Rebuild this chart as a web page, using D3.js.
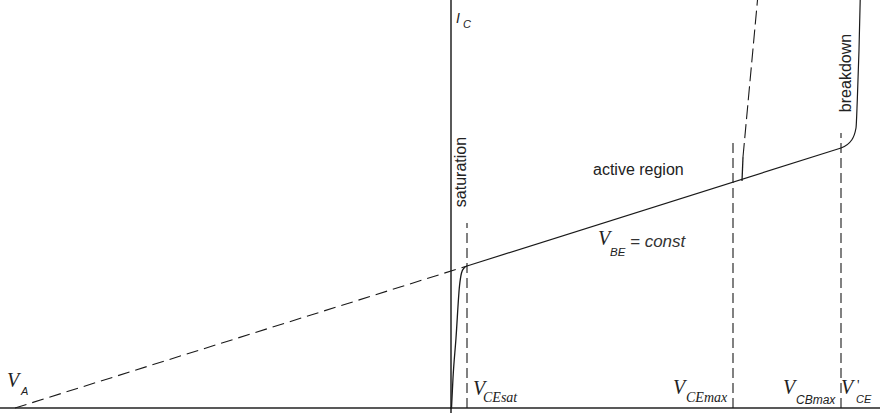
<!DOCTYPE html>
<html>
<head>
<meta charset="utf-8">
<script src="https://cdn.jsdelivr.net/npm/d3@7"></script>
<style>
  html, body { margin: 0; padding: 0; background: #fff; }
  svg { display: block; }
</style>
</head>
<body>
<div id="chart"></div>
<script>
// Bipolar transistor output characteristic: I_C versus V_CE at constant V_BE.

// Characteristic voltages (arbitrary units along V_CE)
const vA = -43.6;       // Early voltage intercept
const vCEsat = 1.6;
const vCEmax = 28.2;
const vCBmax = 39.0;

// Active-region line (solid) and its extrapolation back to V_A (dashed)
const earlyExtrapolation = [[-43.6, 0], [1.6, 14.2]];
const activeRegion = [[1.6, 14.2], [39.0, 26.0]];

// Saturation rise from the origin into the knee
const saturationCurve = [[0.05, 0.0], [0.2, 3.0], [0.5, 7.0], [0.85, 12.2], [1.05, 13.5], [1.3, 14.0], [1.6, 14.2]];

// Avalanche breakdown bend at V_CBmax
const breakdownCurve = [[39.0, 26.0], [40.07, 26.8], [40.5, 28.0], [40.63, 30.8], [40.8, 35.8], [40.92, 40.8]];

// Steep rise starting at V_CEmax: short solid part then dashed
const punchSolid = [[29.1, 22.7], [29.2, 25.1]];
const punchDashed = [[29.2, 25.1], [30.65, 40.8]];

// Dashed marker lines: [V_CE, top I_C]
const markerLines = [[vCEsat, 18.5], [vCEmax, 26.8], [vCBmax, 27.5]];

// Text
const axisLabelY = ["I", "C"];
const regionLabels = ["saturation", "active region", "breakdown"];
const vbeLabel = ["V", "BE", "= const"];
const voltageLabels = [
  { main: "V", prime: "", sub: "A" },
  { main: "V", prime: "", sub: "CEsat" },
  { main: "V", prime: "", sub: "CEmax" },
  { main: "V", prime: "", sub: "CBmax" },
  { main: "V", prime: "'", sub: "CE" }
];

const W = 880, H = 413;
const svg = d3.select("#chart").append("svg").attr("width", W).attr("height", H);

const x = d3.scaleLinear().domain([-45.1, 42.9]).range([0, 880]);
const y = d3.scaleLinear().domain([0, 40.8]).range([408, 0]);

const line = d3.line().x(d => x(d[0])).y(d => y(d[1]));
const smooth = d3.line().x(d => x(d[0])).y(d => y(d[1])).curve(d3.curveMonotoneX);

const ink = "#1a1a1a";

// Axes
svg.append("line")
  .attr("x1", x(-45.1)).attr("x2", x(42.9))
  .attr("y1", y(0)).attr("y2", y(0))
  .attr("stroke", "#222").attr("stroke-width", 1.3);
svg.append("line")
  .attr("x1", x(0)).attr("x2", x(0))
  .attr("y1", y(-0.5)).attr("y2", y(40.8))
  .attr("stroke", "#000").attr("stroke-width", 1.3);

// Dashed marker verticals
svg.selectAll("line.marker").data(markerLines).enter().append("line")
  .attr("class", "marker")
  .attr("x1", d => x(d[0])).attr("x2", d => x(d[0]))
  .attr("y1", y(0)).attr("y2", d => y(d[1]))
  .attr("stroke", ink).attr("stroke-width", 1.1)
  .attr("stroke-dasharray", "10,5");

// Extrapolation to V_A
svg.append("path").attr("d", line(earlyExtrapolation))
  .attr("fill", "none").attr("stroke", ink).attr("stroke-width", 1.1)
  .attr("stroke-dasharray", "12,6");

// Active region
svg.append("path").attr("d", line(activeRegion))
  .attr("fill", "none").attr("stroke", ink).attr("stroke-width", 1.2);

// Saturation curve
svg.append("path").attr("d", smooth(saturationCurve))
  .attr("fill", "none").attr("stroke", ink).attr("stroke-width", 1.3);

// Breakdown curve
svg.append("path").attr("d", smooth(breakdownCurve))
  .attr("fill", "none").attr("stroke", ink).attr("stroke-width", 1.2);

// Rise at V_CEmax
svg.append("path").attr("d", line(punchSolid))
  .attr("fill", "none").attr("stroke", ink).attr("stroke-width", 1.3);
svg.append("path").attr("d", line(punchDashed))
  .attr("fill", "none").attr("stroke", ink).attr("stroke-width", 1.1)
  .attr("stroke-dasharray", "14,5");

// Labels
const sans = "Liberation Sans, Arial, sans-serif";
const serif = "Liberation Serif, Times New Roman, serif";

// I_C axis label
const ic = svg.append("text").attr("x", 456).attr("y", 23)
  .attr("font-family", sans).attr("font-style", "italic").attr("fill", "#222");
ic.append("tspan").attr("font-size", 14).text(axisLabelY[0]);
ic.append("tspan").attr("font-size", 11).attr("x", 463).attr("y", 28).text(axisLabelY[1]);

// Region labels
svg.append("text")
  .attr("transform", "translate(466,172) rotate(-90)")
  .attr("text-anchor", "middle")
  .attr("font-family", sans).attr("font-size", 16).attr("fill", "#222")
  .text(regionLabels[0]);
svg.append("text")
  .attr("x", 593).attr("y", 175)
  .attr("font-family", sans).attr("font-size", 16).attr("fill", "#222")
  .text(regionLabels[1]);
svg.append("text")
  .attr("transform", "translate(851,73) rotate(-90)")
  .attr("text-anchor", "middle")
  .attr("font-family", sans).attr("font-size", 16).attr("fill", "#222")
  .text(regionLabels[2]);

// V_BE = const
svg.append("text").attr("x", 598).attr("y", 245).attr("fill", "#222")
  .attr("font-family", serif).attr("font-style", "italic").attr("font-size", 20)
  .text(vbeLabel[0]);
svg.append("text").attr("x", 610).attr("y", 256).attr("fill", "#222")
  .attr("font-family", sans).attr("font-style", "italic").attr("font-size", 11.5)
  .text(vbeLabel[1]);
svg.append("text").attr("x", 630).attr("y", 247).attr("fill", "#333")
  .attr("font-family", sans).attr("font-style", "italic").attr("font-size", 17)
  .text(vbeLabel[2]);

// Voltage labels along the V_CE axis
const vPos = [
  { vx: 7,   vy: 387, px: 0,   sx: 21,  sy: 395, subFont: sans,  subSize: 11 },
  { vx: 473, vy: 395, px: 0,   sx: 483, sy: 402, subFont: serif, subSize: 14 },
  { vx: 673, vy: 394, px: 0,   sx: 686, sy: 402, subFont: serif, subSize: 14 },
  { vx: 783, vy: 394, px: 0,   sx: 796, sy: 404, subFont: sans,  subSize: 12 },
  { vx: 841, vy: 394, px: 857, sx: 856, sy: 403, subFont: sans,  subSize: 11 }
];
voltageLabels.forEach((lab, i) => {
  const p = vPos[i];
  svg.append("text").attr("x", p.vx).attr("y", p.vy)
    .attr("fill", "#222").attr("font-style", "italic")
    .attr("font-family", serif).attr("font-size", 20).text(lab.main);
  if (lab.prime) {
    svg.append("text").attr("x", p.px).attr("y", p.vy - 4)
      .attr("fill", "#222").attr("font-family", serif).attr("font-size", 14)
      .text(lab.prime);
  }
  svg.append("text").attr("x", p.sx).attr("y", p.sy)
    .attr("fill", "#222").attr("font-style", "italic")
    .attr("font-family", p.subFont).attr("font-size", p.subSize).text(lab.sub);
});
</script>
</body>
</html>
